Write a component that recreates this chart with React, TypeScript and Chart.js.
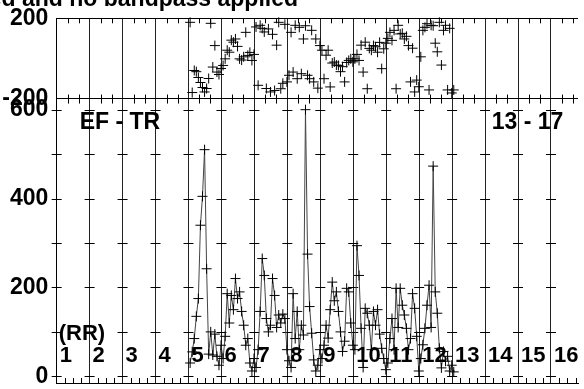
import React, { useEffect, useRef } from 'react';
import { Chart, registerables } from 'chart.js';

Chart.register(...registerables);

// ---- data ----
const TITLE = 'Amplitude and phase, calibrated and no bandpass applied';
const baselineLabel = 'EF - TR';
const timeRangeLabel = '13 - 17';
const polLabel = '(RR)';
const scanLabels = ['1', '2', '3', '4', '5', '6', '7', '8', '9', '10', '11', '12', '13', '14', '15', '16'];
const hourLines = [0, 1, 2, 3, 4, 5, 6, 7, 8, 9, 10, 11, 12, 13, 14, 15];
const ampTickValues = [0, 200, 400, 600];
const ampMarkValues = [0, 100, 200, 300, 400, 500, 600];
const phaseTickValues = [-200, 0, 200];

const times = [
  4.05, 4.113, 4.175, 4.238, 4.3, 4.363, 4.425, 4.488, 4.55, 4.613, 4.675, 4.738, 4.8, 4.863, 4.925, 4.988,
  5.05, 5.113, 5.175, 5.238, 5.3, 5.363, 5.425, 5.488, 5.55, 5.613, 5.675, 5.738, 5.8, 5.863, 5.925, 5.988,
  6.05, 6.113, 6.175, 6.238, 6.3, 6.363, 6.425, 6.488, 6.55, 6.613, 6.675, 6.738, 6.8, 6.863, 6.925, 6.988,
  7.05, 7.113, 7.175, 7.238, 7.3, 7.363, 7.425, 7.488, 7.55, 7.613, 7.675, 7.738, 7.8, 7.863, 7.925, 7.988,
  8.05, 8.113, 8.175, 8.238, 8.3, 8.363, 8.425, 8.488, 8.55, 8.613, 8.675, 8.738, 8.8, 8.863, 8.925, 8.988,
  9.05, 9.113, 9.175, 9.238, 9.3, 9.363, 9.425, 9.488, 9.55, 9.613, 9.675, 9.738, 9.8, 9.863, 9.925, 9.988,
  10.05, 10.113, 10.175, 10.238, 10.3, 10.363, 10.425, 10.488, 10.55, 10.613, 10.675, 10.738, 10.8, 10.863, 10.925, 10.988,
  11.05, 11.113, 11.175, 11.238, 11.3, 11.363, 11.425, 11.488, 11.55, 11.613, 11.675, 11.738, 11.8, 11.863, 11.925, 11.988,
  12.05,
];

const amplitude = [
  30, 55, 85, 135, 175, 340, 405, 510, 242, 50, 100, 48, 95, 45, 25, 70,
  40, 90, 186, 120, 182, 150, 220, 175, 190, 146, 115, 70, 85, 30, 12, 40,
  20, 60, 146, 265, 227, 130, 100, 115, 220, 182, 110, 138, 120, 140, 130, 60,
  35, 20, 186, 85, 146, 60, 115, 93, 600, 275, 157, 97, 37, 12, 25, 60,
  40, 70, 115, 86, 150, 212, 170, 190, 146, 100, 56, 79, 198, 190, 120, 70,
  60, 294, 227, 108, 20, 153, 142, 115, 60, 146, 115, 150, 95, 63, 40, 15,
  30, 85, 130, 60, 198, 110, 198, 160, 138, 108, 60, 85, 186, 153, 90, 12,
  40, 71, 108, 160, 205, 110, 473, 190, 142, 63, 19, 56, 34, 45, 12, 25,
  10,
];

const phase = [
  180, -170, -60, -66, -95, -120, -145, -167, -150, -100, 175, -43, 64, -68, -80, -50,
  -35, -2, 41, 31, 91, 81, 97, 60, -2, -8, 8, 130, 15, 30, -10, 20,
  157, -134, 165, 150, 132, -150, 147, -167, 120, -160, 66, 180, -151, -124, 170, -117,
  -84, 130, -68, 165, -101, 155, -76, 97, 163, -84, -101, 140, -117, 97, -148, 64,
  41, -101, 16, 41, -142, -23, -18, -33, -35, -66, -41, -117, -20, -10, -2, -17,
  -2, 20, -10, 66, -68, 81, -151, 50, 41, 64, 58, 31, 80, -51, 48, 76,
  100, 130, 90, 140, -151, 165, 122, 125, 97, 110, 64, -117, 51, -167, -108, -141,
  8, 140, 155, 173, -157, 165, 163, 76, 33, 180, -33, 140, 165, -157, 150, -172,
  -157,
];

const FONT_FAMILY = '"Liberation Sans", Arial, Helvetica, sans-serif';

const decorPlugin = {
  id: 'decor',
  beforeDatasetsDraw(chart: any) {
    const { ctx, chartArea, scales } = chart;
    const x = scales.x;
    const y = scales.y;
    const y2 = scales.y2;
    ctx.save();
    ctx.strokeStyle = '#000';
    ctx.lineWidth = 1;
    ctx.beginPath();
    for (const h of hourLines) {
      const px = x.getPixelForValue(h);
      for (const v of ampMarkValues) {
        const py = Math.round(y.getPixelForValue(v)) + 0.5;
        ctx.moveTo(px - 5, py);
        ctx.lineTo(px + 5, py);
      }
    }
    const top = y2.top;
    const mid = y2.bottom;
    const bot = y.bottom;
    for (const h of hourLines) {
      for (let j = 1; j < 3; j++) {
        const px = Math.round(x.getPixelForValue(h + j / 3)) + 0.5;
        if (px > chartArea.right) continue;
        ctx.moveTo(px, top);
        ctx.lineTo(px, top + 5);
        ctx.moveTo(px, mid - 4);
        ctx.lineTo(px, mid + 5);
      }
      for (let j = 1; j < 4; j++) {
        const px = Math.round(x.getPixelForValue(h + j / 4)) + 0.5;
        if (px > chartArea.right) continue;
        ctx.moveTo(px, bot);
        ctx.lineTo(px, bot - 5);
      }
    }
    ctx.stroke();
    ctx.restore();
  },
  afterDraw(chart: any) {
    const { ctx, chartArea, scales } = chart;
    const x = scales.x;
    const y = scales.y;
    ctx.save();
    ctx.fillStyle = '#000';
    ctx.font = `bold 23px ${FONT_FAMILY}`;
    ctx.textAlign = 'right';
    ctx.textBaseline = 'alphabetic';
    ctx.fillText(TITLE, 298, 6);

    ctx.textAlign = 'left';
    ctx.textBaseline = 'middle';
    ctx.fillText(baselineLabel, chartArea.left + 23, y.getPixelForValue(570));
    ctx.fillText(timeRangeLabel, x.getPixelForValue(13.2), y.getPixelForValue(570));

    ctx.font = `bold 22px ${FONT_FAMILY}`;
    ctx.fillText(polLabel, chartArea.left + 2, y.getPixelForValue(95));
    scanLabels.forEach((lab, i) => {
      ctx.fillText(lab, x.getPixelForValue(i) + 3, y.getPixelForValue(45));
    });
    ctx.restore();
  },
};

const zeroPad = (s: any) => {
  s.paddingTop = 0;
  s.paddingBottom = 0;
  s.paddingLeft = 0;
  s.paddingRight = 0;
};

export default function App() {
  const canvasRef = useRef<HTMLCanvasElement | null>(null);

  useEffect(() => {
    const canvas = canvasRef.current;
    if (!canvas) return;
    const tickFont = { family: FONT_FAMILY, size: 23, weight: 'bold' as const };
    const chart = new Chart(canvas, {
      type: 'scatter',
      data: {
        datasets: [
          {
            label: 'Amplitude',
            data: times.map((t, i) => ({ x: t, y: amplitude[i] })),
            xAxisID: 'x',
            yAxisID: 'y',
            showLine: true,
            borderColor: '#444',
            borderWidth: 1,
            pointStyle: 'cross',
            pointRadius: 5,
            pointBorderColor: '#000',
            pointBorderWidth: 1,
            clip: false as any,
          },
          {
            label: 'Phase',
            data: times.map((t, i) => ({ x: t, y: phase[i] })),
            xAxisID: 'x',
            yAxisID: 'y2',
            showLine: false,
            pointStyle: 'cross',
            pointRadius: 5,
            pointBorderColor: '#000',
            pointBorderWidth: 1,
            clip: false as any,
          },
        ],
      },
      options: {
        animation: false,
        responsive: false,
        devicePixelRatio: 1,
        layout: { padding: { top: 18.3, left: 0, right: 0, bottom: 0 } },
        plugins: {
          legend: { display: false },
          tooltip: { enabled: false },
          title: { display: false },
        },
        scales: {
          x: {
            type: 'linear',
            position: 'bottom',
            min: 0,
            max: 15.82,
            afterBuildTicks: (s: any) => {
              s.ticks = hourLines.map((v) => ({ value: v }));
            },
            afterFit: (s: any) => {
              s.height = 4;
              zeroPad(s);
            },
            ticks: { display: false },
            grid: { color: '#222', lineWidth: 1, drawTicks: false },
            border: { display: true, color: '#000', width: 1 },
          },
          y: {
            type: 'linear',
            position: 'left',
            stack: 'panels',
            stackWeight: 286,
            min: -15,
            max: 625,
            afterBuildTicks: (s: any) => {
              s.ticks = ampTickValues.map((v) => ({ value: v }));
            },
            afterFit: (s: any) => {
              s.width = 56.67;
              zeroPad(s);
            },
            ticks: { color: '#000', font: tickFont, padding: 8.4 },
            grid: { display: false, drawTicks: false },
            border: { display: true, color: '#000', width: 1 },
          },
          y2: {
            type: 'linear',
            position: 'left',
            stack: 'panels',
            stackWeight: 80.7,
            min: -200,
            max: 200,
            afterBuildTicks: (s: any) => {
              s.ticks = phaseTickValues.map((v) => ({ value: v }));
            },
            afterFit: (s: any) => {
              s.width = 56.67;
              zeroPad(s);
            },
            ticks: {
              color: '#000',
              font: tickFont,
              padding: 8.4,
              callback: (v: any) => (Number(v) === 0 ? '' : String(v)),
            },
            grid: { color: '#000', lineWidth: 1, drawTicks: false },
            border: { display: true, color: '#000', width: 1 },
          },
        },
      } as any,
      plugins: [decorPlugin],
    });
    return () => chart.destroy();
  }, []);

  return (
    <div style={{ position: 'absolute', left: 0, top: 0, width: 584, height: 389, overflow: 'hidden', background: '#fff' }}>
      <canvas ref={canvasRef} width={584} height={389} style={{ display: 'block' }} />
    </div>
  );
}
